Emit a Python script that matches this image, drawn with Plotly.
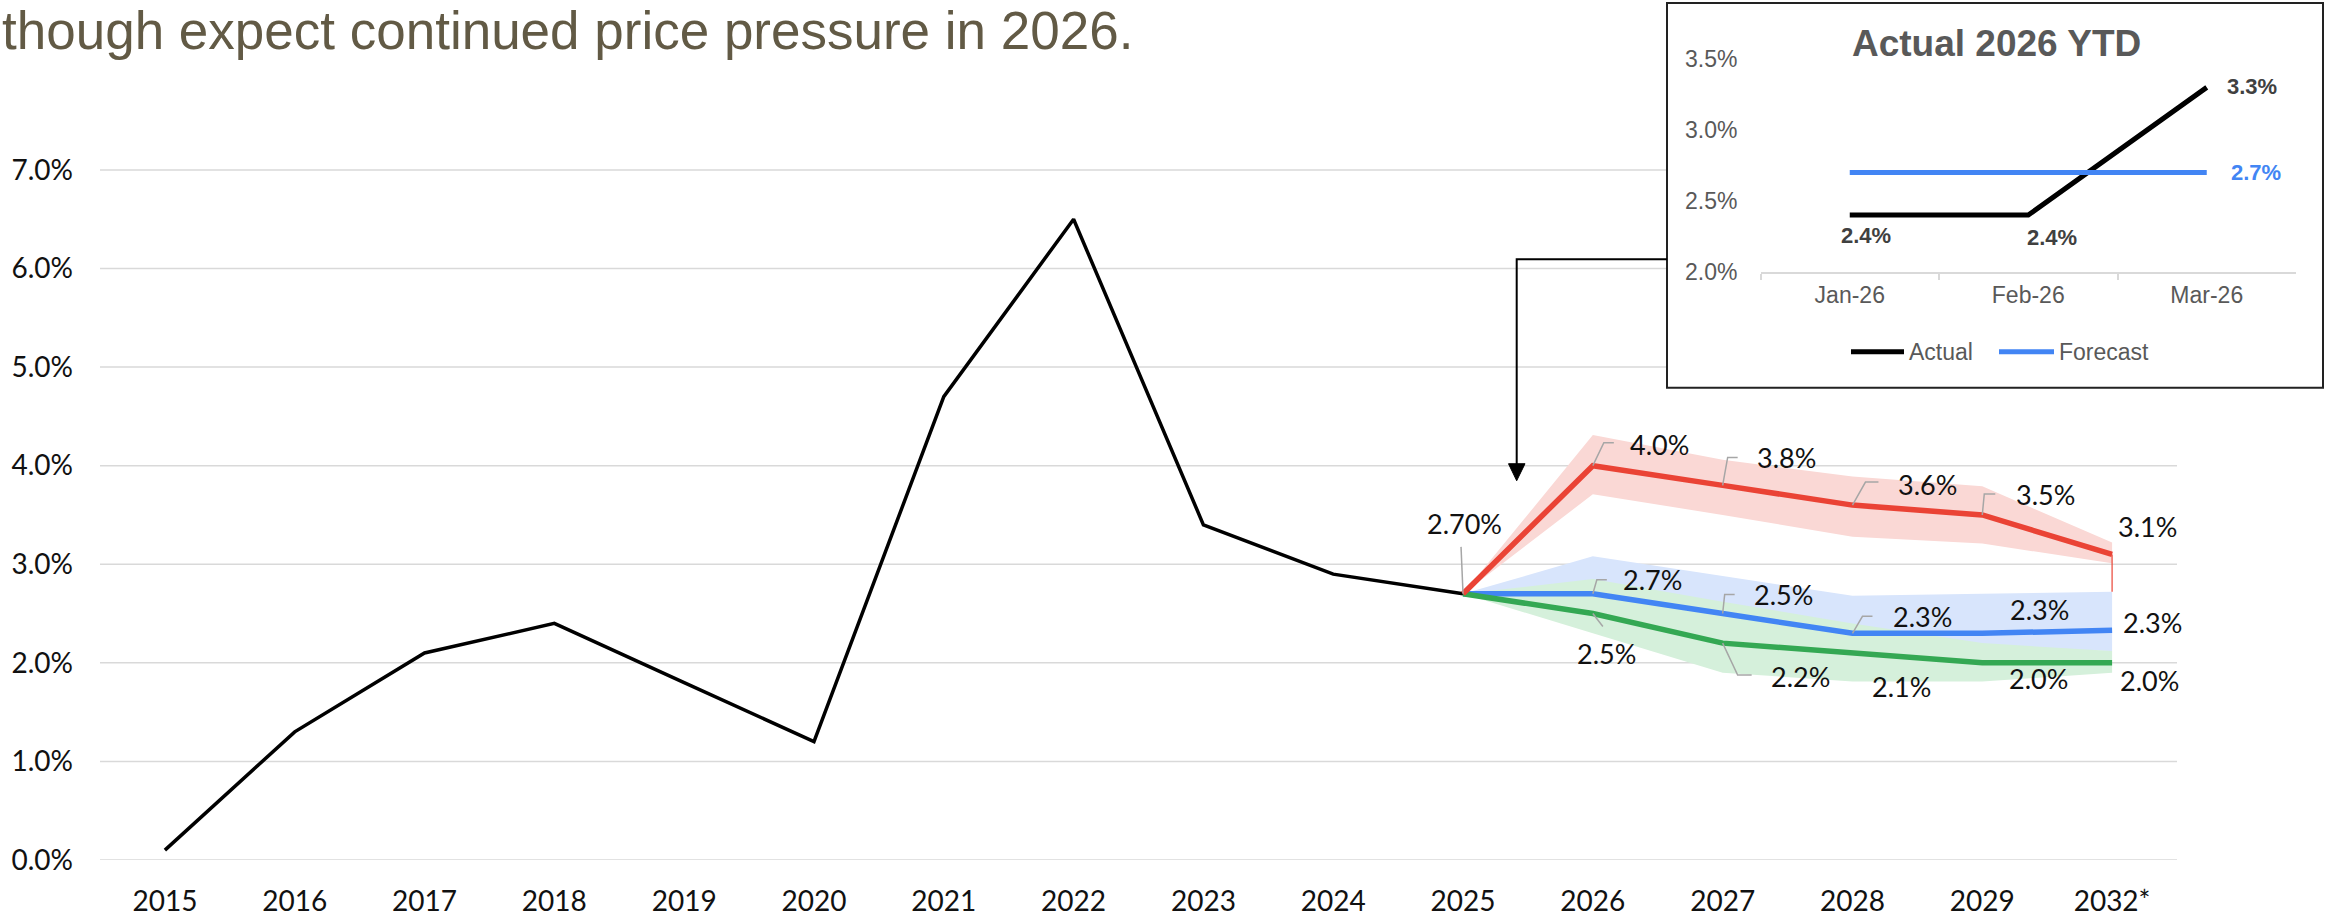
import plotly.graph_objects as go

# ---------------- data ----------------
years = ["2015", "2016", "2017", "2018", "2019", "2020", "2021", "2022",
         "2023", "2024", "2025", "2026", "2027", "2028", "2029", "2032*"]
hist_years = years[:11]
hist_values = [0.1, 1.3, 2.1, 2.4, 1.8, 1.2, 4.7, 6.5, 3.4, 2.9, 2.7]

fc_years = years[10:]
high_values = [2.7, 4.0, 3.8, 3.6, 3.5, 3.1]
high_upper = [2.7, 4.31, 4.06, 3.89, 3.79, 3.22]
high_lower = [2.7, 3.71, 3.50, 3.28, 3.21, 3.01]

mid_values = [2.7, 2.7, 2.5, 2.3, 2.3, 2.33]
mid_upper = [2.7, 3.08, 2.88, 2.68, 2.70, 2.72]
mid_lower = [2.7, 2.45, 2.30, 2.20, 2.15, 2.12]

low_values = [2.7, 2.5, 2.2, 2.1, 2.0, 2.0]
low_upper = [2.7, 2.85, 2.62, 2.40, 2.20, 2.12]
low_lower = [2.7, 2.30, 1.90, 1.81, 1.81, 1.90]

y_ticks = [0, 1, 2, 3, 4, 5, 6, 7]

ytd_months = ["Jan-26", "Feb-26", "Mar-26"]
ytd_actual = [2.4, 2.4, 3.3]
ytd_forecast = [2.7, 2.7, 2.7]
inset_ticks = [2.0, 2.5, 3.0, 3.5]
legend_names = ["Actual", "Forecast"]

title_text = "though expect continued price pressure in 2026."
inset_title = "Actual 2026 YTD"

# ---------------- geometry helpers ----------------
W, H = 2325, 923
ML, MR, MT, MB = 100, 20, 0, 62.5
PW = W - ML - MR
PH = H - MT - MB


def px(x):
    return (x - ML) / PW


def py(y):
    return (H - MB - y) / PH


MAIN_RIGHT = 2177
MAIN_TOP = 120.7
Y_MAX = 7.5
PX_PER_UNIT = (H - MB - MAIN_TOP) / Y_MAX
PX_PER_CAT = (MAIN_RIGHT - ML) / len(years)
IN_L, IN_R, IN_T, IN_B = 1760.5, 2296, 59, 272
BOX_L, BOX_R, BOX_T, BOX_B = 1667, 2323, 3, 388

RED = "#EA4335"
BLUE = "#4285F4"
GREEN = "#34A853"
RED_BAND = "#FAD8D5"
BLUE_BAND = "#D8E5FC"
GREEN_BAND = "#D5F0DB"
GRID = "#D9D9D9"
LEADER = "#A6A6A6"
MAIN_FONT = "Lato"
INSET_FONT = "Liberation Sans"

fig = go.Figure()


def band(x, hi, lo, color):
    return go.Scatter(x=list(x) + list(x)[::-1], y=list(hi) + list(lo)[::-1],
                      fill="toself", fillcolor=color, mode="lines",
                      line=dict(width=0, color=color), hoverinfo="skip",
                      showlegend=False)


fig.add_trace(band(fc_years, high_upper, high_lower, RED_BAND))
fig.add_trace(band(fc_years, mid_upper, mid_lower, BLUE_BAND))
fig.add_trace(band(fc_years, low_upper, low_lower, GREEN_BAND))

fig.add_trace(go.Scatter(x=hist_years, y=hist_values, mode="lines",
                         line=dict(color="black", width=3.5), showlegend=False))
fig.add_trace(go.Scatter(x=fc_years, y=mid_values, mode="lines",
                         line=dict(color=BLUE, width=5.5), showlegend=False))
fig.add_trace(go.Scatter(x=fc_years, y=low_values, mode="lines",
                         line=dict(color=GREEN, width=5.5), showlegend=False))
fig.add_trace(go.Scatter(x=fc_years, y=high_values, mode="lines",
                         line=dict(color=RED, width=5.5), showlegend=False))
# thin drop line at the last forecast year
fig.add_trace(go.Scatter(x=[fc_years[-1], fc_years[-1]], y=[high_values[-1], mid_upper[-1]],
                         mode="lines", line=dict(color=RED, width=1.2), showlegend=False))

# inset traces
fig.add_trace(go.Scatter(x=ytd_months, y=ytd_actual, mode="lines", name=legend_names[0],
                         line=dict(color="black", width=5), xaxis="x2", yaxis="y2",
                         showlegend=False))
fig.add_trace(go.Scatter(x=ytd_months, y=ytd_forecast, mode="lines", name=legend_names[1],
                         line=dict(color=BLUE, width=5), xaxis="x2", yaxis="y2",
                         showlegend=False))

annotations = []
shapes = []

# data label placement in px: (dx, dy, leader) ; leader = (elbow dx, elbow dy, end dx) or None
high_offsets = [(1, -70, (-2, -47, -2)), (67, -21, (11, -23, 21)), (64, -28, (5, -28, 15)),
                (75, -21, (13, -23, 26)), (63, -20, (2, -21, 13)), (35, -28, None)]
mid_offsets = [None, (60, -14, (4, -14, 14)), (61, -19, (2, -19, 12)), (70, -17, (10, -17, 20)),
               (57, -24, None), (40, -8, None)]
low_offsets = [None, (14, 40, (10, 13, 10)), (78, 33, (15, 32, 29)), (49, 34, None),
               (56, 16, None), (37, 18, None)]


def add_labels(vals, offsets):
    for i, (yr, v) in enumerate(zip(fc_years, vals)):
        off = offsets[i]
        if off is None:
            continue
        dx, dy, leader = off
        xi = years.index(yr)
        txt = f"{v:.2f}%" if i == 0 else f"{v:.1f}%"
        annotations.append(dict(
            x=xi, y=v, xref="x", yref="y", text=txt, showarrow=False,
            xshift=dx, yshift=-dy,
            font=dict(family=MAIN_FONT, size=27, color="#111111")))
        if leader is not None:
            ex, ey, hx = leader
            x1 = xi + ex / PX_PER_CAT
            y1 = v - ey / PX_PER_UNIT
            x2 = xi + hx / PX_PER_CAT
            shapes.append(dict(type="path", xref="x", yref="y", layer="above",
                               path=f"M {xi},{v} L {x1},{y1} L {x2},{y1}",
                               line=dict(color=LEADER, width=1.5)))


add_labels(high_values, high_offsets)
add_labels(mid_values, mid_offsets)
add_labels(low_values, low_offsets)

# inset data labels
inset_label_offsets = [(16, 20), (24, 22), (45, -1)]
for i, (v, (dx, dy)) in enumerate(zip(ytd_actual, inset_label_offsets)):
    annotations.append(dict(x=i, y=v, xref="x2", yref="y2", text=f"<b>{v:.1f}%</b>",
                            showarrow=False, xshift=dx, yshift=-dy,
                            font=dict(family=INSET_FONT, size=22, color="#404040")))
annotations.append(dict(x=len(ytd_months) - 1, y=ytd_forecast[-1], xref="x2", yref="y2",
                        text=f"<b>{ytd_forecast[-1]:.1f}%</b>", showarrow=False,
                        xshift=49, yshift=0,
                        font=dict(family=INSET_FONT, size=22, color=BLUE)))

# headline text
annotations.append(dict(x=px(0), y=py(31), xref="paper", yref="paper", text=title_text,
                        showarrow=False, xanchor="left", yanchor="middle",
                        font=dict(family=INSET_FONT, size=53, color="#625A45")))
# inset title
annotations.append(dict(x=px(1996), y=py(44), xref="paper", yref="paper",
                        text=f"<b>{inset_title}</b>", showarrow=False,
                        xanchor="center", yanchor="middle",
                        font=dict(family=INSET_FONT, size=37, color="#595959")))

# main gridlines (stop at the inset box)
for t in y_ticks:
    ypix = H - MB - t * PX_PER_UNIT
    x_end = BOX_L if ypix < BOX_B + 2 else MAIN_RIGHT
    shapes.append(dict(type="line", xref="paper", yref="y", layer="below",
                       x0=px(ML), x1=px(x_end), y0=t, y1=t,
                       line=dict(color=GRID, width=1.5)))

# inset box
shapes.append(dict(type="rect", xref="paper", yref="paper", layer="below",
                   x0=px(BOX_L), x1=px(BOX_R), y0=py(BOX_B), y1=py(BOX_T),
                   line=dict(color="#222222", width=2), fillcolor="white"))
# connector arrow
shapes.append(dict(type="path", xref="paper", yref="paper", layer="above",
                   path=f"M {px(BOX_L)},{py(259.5)} L {px(1516.7)},{py(259.5)} L {px(1516.7)},{py(468)}",
                   line=dict(color="black", width=2)))
shapes.append(dict(type="path", xref="paper", yref="paper", layer="above",
                   path=f"M {px(1508.5)},{py(464)} L {px(1525)},{py(464)} L {px(1516.7)},{py(481)} Z",
                   line=dict(color="black", width=1), fillcolor="black"))

# manual inset legend
legend_items = [(1851, 1904, "black"), (1999, 2054, BLUE)]
for name, (x0, x1, col) in zip(legend_names, legend_items):
    shapes.append(dict(type="line", xref="paper", yref="paper", layer="above",
                       x0=px(x0), x1=px(x1), y0=py(352), y1=py(352),
                       line=dict(color=col, width=5)))
    annotations.append(dict(x=px(x1 + 3), y=py(352), xref="paper", yref="paper",
                            text=name, showarrow=False, xanchor="left", yanchor="middle",
                            font=dict(family=INSET_FONT, size=23, color="#595959")))

fig.update_layout(
    width=W, height=H,
    margin=dict(l=ML, r=MR, t=MT, b=MB, pad=0, autoexpand=False),
    paper_bgcolor="white", plot_bgcolor="rgba(0,0,0,0)",
    annotations=annotations, shapes=shapes,
    showlegend=False,
    xaxis=dict(domain=[0, px(MAIN_RIGHT)], type="category", range=[-0.5, len(years) - 0.5],
               categoryorder="array", categoryarray=years,
               showgrid=False, showline=False, zeroline=False, ticks="",
               ticklabelstandoff=22, automargin=False,
               tickfont=dict(family=MAIN_FONT, size=28, color="#111111")),
    yaxis=dict(domain=[0, py(MAIN_TOP)], range=[0, Y_MAX], tickvals=y_ticks,
               ticktext=[f"{t:.1f}%" for t in y_ticks],
               showgrid=False, zeroline=False, showline=False, ticks="",
               ticklabelstandoff=26, automargin=False,
               tickfont=dict(family=MAIN_FONT, size=28, color="#111111")),
    xaxis2=dict(domain=[px(IN_L), px(IN_R)], anchor="y2", type="category",
                range=[-0.5, 2.5], showgrid=False, zeroline=False,
                showline=True, linecolor=GRID, linewidth=2,
                ticks="outside", tickson="boundaries", ticklen=6, tickcolor=GRID, tickwidth=2,
                ticklabelstandoff=2, automargin=False,
                tickfont=dict(family=INSET_FONT, size=23, color="#595959")),
    yaxis2=dict(domain=[py(IN_B), py(IN_T)], anchor="x2", range=[2.0, 3.5],
                tickvals=inset_ticks, ticktext=[f"{t:.1f}%" for t in inset_ticks],
                showgrid=False, zeroline=False, showline=False, ticks="",
                ticklabelstandoff=22, automargin=False,
                tickfont=dict(family=INSET_FONT, size=23, color="#595959")),
)

fig.write_html("out.html")
